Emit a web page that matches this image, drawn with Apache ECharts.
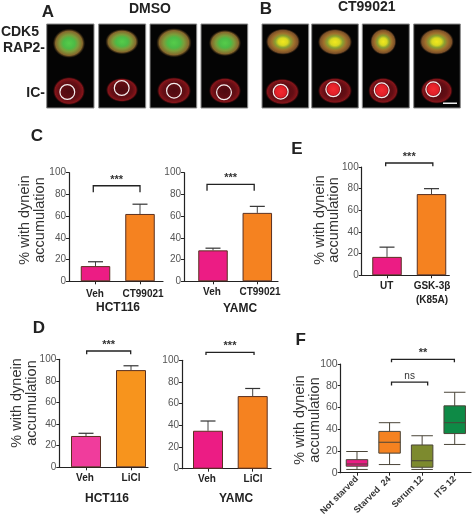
<!DOCTYPE html>
<html><head><meta charset="utf-8">
<style>html,body{margin:0;padding:0;background:#fff}#c{width:472px;height:518px}</style>
<script src="https://cdn.jsdelivr.net/npm/echarts@6/dist/echarts.min.js"></script>
</head><body><div id="c"></div>
<script>
// ---- data ----
const cVeh = ['Veh','CT99021'];
const cHctValues = [14, 62];
const cHctErrors = [18, 71];
const cYamcValues = [28.5, 63];
const cYamcErrors = [30.5, 69];
const dCats = ['Veh','LiCl'];
const dHctValues = [29, 90];
const dHctErrors = [31.5, 94];
const dYamcValues = [35, 67];
const dYamcErrors = [44, 74];
const eCats = ['UT','GSK-3β\n(K85A)'];
const eValues = [17, 75];
const eErrors = [26, 80];
const fCats = ['Not starved','Starved  24','Serum 12','ITS 12'];
const fBoxes = [[3,6,8,12,19.5],[7.5,18,28,38,46],[3,5,11,25.5,34],[26,36,46,61.5,74]];

// ---- layout and style ----
const FONT = '"Liberation Sans", Arial, sans-serif';
const PINK = '#ec1c84', ORANGE = '#f58220';
const panels = [
 {ax:69, y1:172.7,y0:281.3,xe:163,c:[95.5,140],w:29.5,cats:cVeh,vals:cHctValues,errs:cHctErrors,col:[PINK,ORANGE],
  br:[-0.05,1,88,82],lab:[95,143],m:6},
 {ax:184,y1:172.7,y0:281.3,xe:278,c:[213,257.3],w:29.5,cats:cVeh,vals:cYamcValues,errs:cYamcErrors,col:[PINK,ORANGE],
  br:[-0.135,0.93,89.3,83.4],lab:[212,260],m:4},
 {ax:59.3,y1:359.3,y0:467.3,xe:148,c:[86,131],w:30,cats:dCats,vals:dHctValues,errs:dHctErrors,col:['#f03c9c','#f7941d'],
  br:[0.015,0.993,107.7,104.6],lab:[85,131],m:4},
 {ax:182,y1:360.3,y0:468.7,xe:271,c:[208,252.7],w:30,cats:dCats,vals:dYamcValues,errs:dYamcErrors,col:[PINK,ORANGE],
  br:[-0.045,1.03,107.4,104.9],lab:[207,253],m:4},
 {ax:361.7,y1:167,y0:275.3,xe:449.3,c:[387,431.5],w:29.5,cats:eCats,vals:eValues,errs:eErrors,col:[PINK,ORANGE],
  br:[-0.03,1.03,103.7,100.6],lab:[386.7,432],m:4}
];
const F = {ax:340.7,y1:364,y0:472.7,xe:471};
const fCols = ['#ec1c84','#f58220','#7d8a2e','#0e8a46'];
const fBrackets = [[1.06,2.99,104.3,101.6,'**'],[1.06,2.17,83.3,80.2,'ns']];

const grid=[],xAxis=[],yAxis=[],series=[];
function yAx(i,fs){return {gridIndex:i,type:'value',min:0,max:100,interval:20,
  axisLine:{show:true,onZero:false,lineStyle:{color:'#222',width:1.2}},
  axisTick:{show:true,length:3,lineStyle:{color:'#222',width:1}},
  axisLabel:{color:'#555',fontSize:fs,fontFamily:FONT,margin:3},splitLine:{show:false}};}

function bracketRender(p){ return function(params,api){
  const a=api.coord([api.value(0),api.value(2)]), b=api.coord([api.value(0+1),api.value(2)]);
  const a2=api.coord([api.value(0),api.value(3)]);
  const t=p.text(params.dataIndex);
  return {type:'group',silent:true,children:[
    {type:'polyline',shape:{points:[[a[0],a2[1]],[a[0],a[1]],[b[0],b[1]],[b[0],a2[1]]]},style:{stroke:'#222',lineWidth:1.3,fill:null}},
    {type:'text',x:(a[0]+b[0])/2,y:a[1]-p.gap(params.dataIndex),style:{text:t,fill:'#333',fontFamily:FONT,fontSize:p.size(params.dataIndex),fontWeight:p.weight(params.dataIndex),align:'center',verticalAlign:'middle'}}
  ]};
};}

panels.forEach((p,i)=>{
  const unit=p.c[1]-p.c[0];
  const labPos=p.lab.map((l)=>(l-p.c[0])/unit);
  grid.push({left:p.ax,top:p.y1,width:p.xe-p.ax,height:p.y0-p.y1,outerBoundsMode:'none'});
  xAxis.push({gridIndex:i,type:'value',min:(p.ax-p.c[0])/unit,max:(p.xe-p.c[0])/unit,splitLine:{show:false},
    axisLine:{show:true,onZero:false,lineStyle:{color:'#222',width:1.2}},
    axisTick:{show:true,length:3,customValues:[0,1],lineStyle:{color:'#222'}},
    axisLabel:{show:true,customValues:labPos,margin:p.m,color:'#222',fontWeight:'bold',fontSize:10,lineHeight:14,fontFamily:FONT,
      showMinLabel:true,showMaxLabel:true,formatter:(v)=>p.cats[Math.abs(v-labPos[0])<1e-6?0:1]}});
  yAxis.push(yAx(i,10));
  series.push({type:'custom',xAxisIndex:i,yAxisIndex:i,z:1,clip:false,
    data:p.errs.map((e,k)=>[k,p.vals[k],e]),encode:{x:0,y:[1,2]},
    renderItem:(params,api)=>{
      const a=api.coord([api.value(0),api.value(1)]),b=api.coord([api.value(0),api.value(2)]);
      return {type:'group',silent:true,children:[
        {type:'line',shape:{x1:a[0],y1:a[1],x2:b[0],y2:b[1]},style:{stroke:'#444',lineWidth:1}},
        {type:'line',shape:{x1:b[0]-7.5,y1:b[1],x2:b[0]+7.5,y2:b[1]},style:{stroke:'#333',lineWidth:1.2}}]};
    }});
  series.push({type:'bar',xAxisIndex:i,yAxisIndex:i,z:2,barWidth:p.w,silent:true,
    data:p.vals.map((v,k)=>({value:[k,v],itemStyle:{color:p.col[k],borderColor:'#5a3020',borderWidth:1}}))});
  series.push({type:'custom',xAxisIndex:i,yAxisIndex:i,z:3,clip:false,data:[p.br],encode:{x:[0,1],y:[2,3]},
    renderItem:bracketRender({text:()=>'***',gap:()=>6,size:()=>11,weight:()=>'bold'})});
});

// panel F
const fi=panels.length;
grid.push({left:F.ax,top:F.y1,width:F.xe-F.ax,height:F.y0-F.y1,outerBoundsMode:'none'});
xAxis.push({gridIndex:fi,type:'category',data:fCats,
  axisLine:{show:true,lineStyle:{color:'#222',width:1.2}},
  axisTick:{show:true,length:3,alignWithLabel:true,lineStyle:{color:'#222'}},
  axisLabel:{interval:0,rotate:45,margin:5,color:'#333',fontWeight:'bold',fontSize:9,fontFamily:FONT}});
xAxis.push({gridIndex:fi,type:'value',min:-0.5,max:3.5,show:false,splitLine:{show:false}});
yAxis.push(yAx(fi,10.5));
series.push({type:'boxplot',xAxisIndex:fi,yAxisIndex:fi,boxWidth:[21.5,21.5],z:2,silent:true,
  data:fBoxes.map((b,k)=>({value:b,itemStyle:{color:fCols[k],borderColor:'#4a4438',borderWidth:1}}))});
series.push({type:'custom',xAxisIndex:fi+1,yAxisIndex:fi,z:3,clip:false,data:fBrackets.map(b=>b.slice(0,4)),encode:{x:[0,1],y:[2,3]},
  renderItem:bracketRender({text:i=>fBrackets[i][4],gap:()=>6,size:i=>i?10:11,weight:i=>i?'normal':'bold'})});

// ---- graphic elements: micrograph strip and free text ----
const g=[];
function txt(x,y,text,size,weight,color,align){g.push({type:'text',x,y,silent:true,style:{text,fontSize:size,fontWeight:weight||'normal',fill:color||'#222',fontFamily:FONT,align:align||'center',verticalAlign:'middle'}});}
function yName(x1,x2,y){[[x1,'% with dynein'],[x2,'accumulation']].forEach(a=>g.push({type:'text',x:a[0],y,rotation:Math.PI/2,silent:true,style:{text:a[1],fontSize:14.5,fill:'#333',fontFamily:FONT,align:'center',verticalAlign:'middle'}}));}
const radial=(stops)=>new echarts.graphic.RadialGradient(0.5,0.5,0.5,stops.map((c)=>({offset:c[0],color:c[1]})));
function blob(c,stops){g.push({type:'circle',silent:true,x:c[0],y:c[1],scaleX:c[2]/c[3],scaleY:1,shape:{cx:0,cy:0,r:c[3]},style:{fill:radial(stops)}});}

const frames=[[46.7,47.3],[98.7,47],[150,46.7],[201,46.7],[262,46.7],[311.7,46.6],[362.3,47],[413.7,46.6]];
const upper=[[69,43.3,16,14.5],[122,41.7,16.5,12.5],[174,42.7,17.5,14.5],[225,43,16,13],[283,41.7,17,13],[335,42,17,13],[383.3,41.7,13,13],[436.7,41.7,17,13]];
const lower=[[69,91,16,14],[122,90,16,12],[174,90.7,17,13.5],[225,90.7,16,13],[282.3,91.7,17,13],[335,90.7,17,13],[383.3,90.7,15,13],[436.7,90.7,16,13]];
const rings=[[67.3,92],[121.7,88],[174,90.7],[224,92.3],[280.7,91.7],[333.3,89.3],[381.7,90.3],[433.3,89.3]];
frames.forEach((f,i)=>{
  g.push({type:'rect',silent:true,shape:{x:f[0],y:24,width:f[1],height:84},style:{fill:'#040404',stroke:'#8a8a8a',lineWidth:1}});
  const isB=i>=4;
  blob(upper[i],isB?[[0,'#f2e81e'],[0.28,'#d8d820'],[0.46,'#8aa032'],[0.66,'#a0702c'],[0.88,'#7c5028'],[1,'rgba(60,40,20,0.15)']]
                   :[[0,'#55cc4a'],[0.36,'#4cbb46'],[0.58,'#7d9c3a'],[0.84,'#86682c'],[1,'rgba(70,50,20,0.15)']]);
  blob(lower[i],[[0,'#4e0a10'],[0.65,'#640e14'],[0.88,'#86151a'],[1,'rgba(50,5,8,0.2)']]);
  const r=rings[i];
  if(isB) blob([r[0],r[1],7.5,7.5],[[0,'#f42a30'],[0.72,'#e01f28'],[1,'rgba(200,20,30,0.1)']]);
  g.push({type:'circle',silent:true,shape:{cx:r[0],cy:r[1],r:7.4},style:{fill:null,stroke:'#f5eeee',lineWidth:1.2}});
});
g.push({type:'rect',silent:true,shape:{x:443,y:102.5,width:14,height:1.5},style:{fill:'#eee'}});

txt(48,12,'A',17,'bold');txt(150,9,'DMSO',14,'bold');txt(266,9.5,'B',17,'bold');txt(366.7,7.5,'CT99021',14,'bold');
txt(39,32,'CDK5',14,'bold','#222','right');txt(45,48,'RAP2-',14,'bold','#222','right');txt(45,93,'IC-',14,'bold','#222','right');
txt(37,136,'C',17,'bold');txt(39,328,'D',17,'bold');txt(297,149,'E',17,'bold');txt(300.7,340,'F',17,'bold');
txt(118,308,'HCT116',12,'bold');txt(240,309,'YAMC',12,'bold');txt(107,499,'HCT116',12,'bold');txt(236,499,'YAMC',12,'bold');
yName(25,40,220);yName(17,32,403);yName(320,334,220);yName(300,315,420);

const chart=echarts.init(document.getElementById('c'),null,{renderer:'canvas'});
chart.setOption({animation:false,backgroundColor:'#fff',grid,xAxis,yAxis,series,graphic:{elements:g}});
</script></body></html>
